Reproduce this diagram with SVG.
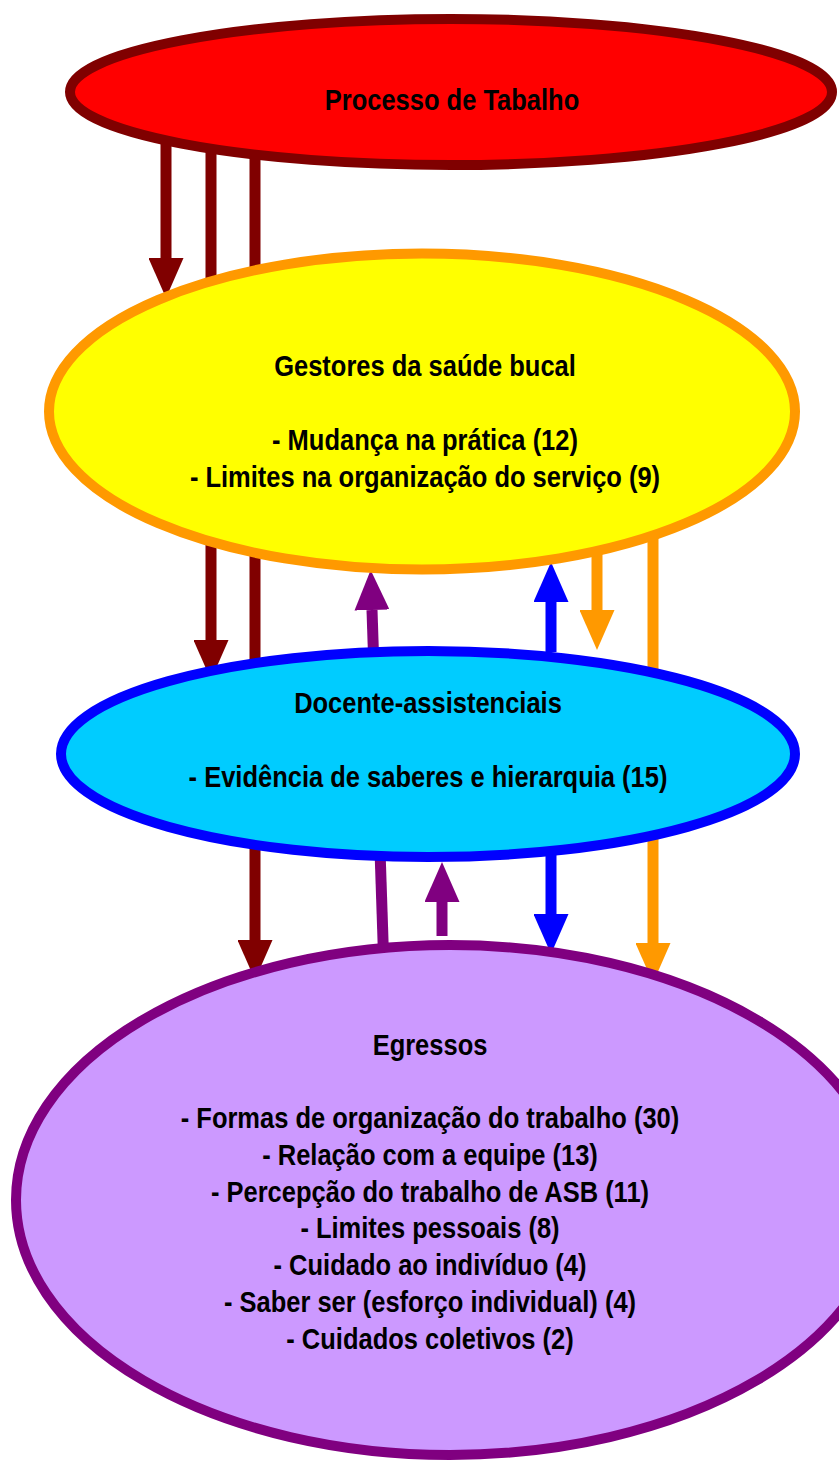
<svg xmlns="http://www.w3.org/2000/svg" width="839" height="1463" viewBox="0 0 839 1463">
<style>
  .lbl { font-family: "Liberation Sans", Arial, sans-serif; font-weight: bold; font-size: 25.5px; fill: #000000; text-anchor: middle; }
  .node { stroke-width: 10; }
  .c { fill: none; stroke-width: 11; stroke-linecap: butt; }
  .c-red { stroke: #800000; }
  .c-pur { stroke: #800080; }
  .c-blu { stroke: #0000FF; }
  .c-org { stroke: #FF9900; }
</style>
<defs>
  <marker id="ah-red" viewBox="0 0 40 35" refX="0" refY="17.5" markerWidth="40" markerHeight="35" markerUnits="userSpaceOnUse" orient="auto"><path d="M0,0 L40,17.5 L0,35 Z" fill="#800000"/></marker>
  <marker id="ah-pur" viewBox="0 0 40 35" refX="0" refY="17.5" markerWidth="40" markerHeight="35" markerUnits="userSpaceOnUse" orient="auto"><path d="M0,0 L40,17.5 L0,35 Z" fill="#800080"/></marker>
  <marker id="ah-blu" viewBox="0 0 40 35" refX="0" refY="17.5" markerWidth="40" markerHeight="35" markerUnits="userSpaceOnUse" orient="auto"><path d="M0,0 L40,17.5 L0,35 Z" fill="#0000FF"/></marker>
  <marker id="ah-org" viewBox="0 0 40 35" refX="0" refY="17.5" markerWidth="40" markerHeight="35" markerUnits="userSpaceOnUse" orient="auto"><path d="M0,0 L40,17.5 L0,35 Z" fill="#FF9900"/></marker>
</defs>
<rect x="0" y="0" width="839" height="1463" fill="#FFFFFF"/>
<g id="connectors">
  <path class="c c-red" d="M166,130 V258" marker-end="url(#ah-red)"/>
  <path class="c c-red" d="M211,130 V640" marker-end="url(#ah-red)"/>
  <path class="c c-red" d="M255,130 V940" marker-end="url(#ah-red)"/>
  <path class="c c-pur" d="M383.5,955 L372,610" marker-end="url(#ah-pur)"/>
  <path class="c c-pur" d="M442,936 V902" marker-end="url(#ah-pur)"/>
  <path class="c c-blu" d="M551,652 V602" marker-end="url(#ah-blu)"/>
  <path class="c c-blu" d="M551,845 V914" marker-end="url(#ah-blu)"/>
  <path class="c c-org" d="M597,540 V610" marker-end="url(#ah-org)"/>
  <path class="c c-org" d="M653,520 V943" marker-end="url(#ah-org)"/>
</g>
<g id="node-processo">
  <ellipse class="node" cx="451" cy="92" rx="381" ry="73" fill="#FF0000" stroke="#800000"/>
  <text class="lbl" transform="matrix(1 0 0 1.18 452 110)">Processo de Tabalho</text>
</g>
<g id="node-gestores">
  <ellipse class="node" cx="422" cy="411.5" rx="373" ry="158" fill="#FFFF00" stroke="#FF9900"/>
  <text class="lbl" transform="matrix(1 0 0 1.18 425 376)">Gestores da saúde bucal</text>
  <text class="lbl" transform="matrix(1 0 0 1.18 425 450)">- Mudança na prática (12)</text>
  <text class="lbl" transform="matrix(1 0 0 1.18 425 487)">- Limites na organização do serviço (9)</text>
</g>
<g id="node-docente">
  <ellipse class="node" cx="428" cy="754" rx="367" ry="103" fill="#00CCFF" stroke="#0000FF"/>
  <text class="lbl" transform="matrix(1 0 0 1.18 428 713)">Docente-assistenciais</text>
  <text class="lbl" transform="matrix(1 0 0 1.18 428 787)">- Evidência de saberes e hierarquia (15)</text>
</g>
<g id="node-egressos">
  <ellipse class="node" cx="450" cy="1200" rx="434" ry="255" fill="#CC99FF" stroke="#800080"/>
  <text class="lbl" transform="matrix(1 0 0 1.18 430 1055)">Egressos</text>
  <text class="lbl" transform="matrix(1 0 0 1.18 430 1128)">- Formas de organização do trabalho (30)</text>
  <text class="lbl" transform="matrix(1 0 0 1.18 430 1165)">- Relação com a equipe (13)</text>
  <text class="lbl" transform="matrix(1 0 0 1.18 430 1202)">- Percepção do trabalho de ASB (11)</text>
  <text class="lbl" transform="matrix(1 0 0 1.18 430 1238)">- Limites pessoais (8)</text>
  <text class="lbl" transform="matrix(1 0 0 1.18 430 1275)">- Cuidado ao indivíduo (4)</text>
  <text class="lbl" transform="matrix(1 0 0 1.18 430 1312)">- Saber ser (esforço individual) (4)</text>
  <text class="lbl" transform="matrix(1 0 0 1.18 430 1349)">- Cuidados coletivos (2)</text>
</g>
</svg>
